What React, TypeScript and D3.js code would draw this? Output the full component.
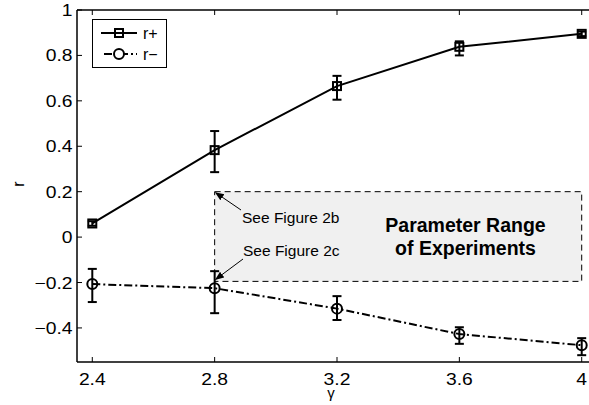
import React from "react";
import * as d3 from "d3";

const gammas = [2.4, 2.8, 3.2, 3.6, 4];
const rPlus = [0.06, 0.383, 0.665, 0.838, 0.895];
const rPlusLo = [0.05, 0.286, 0.605, 0.8, 0.885];
const rPlusHi = [0.07, 0.467, 0.71, 0.862, 0.905];
const rMinus = [-0.207, -0.225, -0.315, -0.427, -0.476];
const rMinusLo = [-0.286, -0.335, -0.365, -0.47, -0.52];
const rMinusHi = [-0.14, -0.15, -0.26, -0.397, -0.445];
const xTicks = [2.4, 2.8, 3.2, 3.6, 4];
const yTicks = [-0.4, -0.2, 0, 0.2, 0.4, 0.6, 0.8, 1];
const rangeBox = { x0: 2.8, x1: 4, y0: -0.195, y1: 0.2 };

const W = 589, H = 405;
const x = d3.scaleLinear().domain([2.35, 4.05]).range([77, 597]);
const y = d3.scaleLinear().domain([-0.55, 1]).range([362, 10]);
const font = "'Liberation Sans', Arial, Helvetica, sans-serif";

function fmt(v: number) {
  const s = d3.format("")(Math.round(v * 10) / 10);
  return s.replace("-", "\u2212");
}

function T(props: { x: number; y: number; sx?: number; size: number; anchor?: string; bold?: boolean; rotate?: number; children: React.ReactNode }) {
  const { x: tx, y: ty, sx = 1, size, anchor = "start", bold, rotate = 0, children } = props;
  return (
    <text
      transform={`translate(${tx},${ty}) rotate(${rotate}) scale(${sx},1)`}
      fontSize={size}
      textAnchor={anchor}
      fontWeight={bold ? "bold" : "normal"}
    >
      {children}
    </text>
  );
}

export default function App() {
  const line = d3.line<number>().x((_, i) => x(gammas[i])).y((d) => y(d));
  const capW = 4.5;
  const errBars = (lo: number[], hi: number[], key: string) =>
    gammas.map((g, i) => (
      <g key={key + i} stroke="#000" strokeWidth={2}>
        <line x1={x(g)} x2={x(g)} y1={y(lo[i])} y2={y(hi[i])} />
        <line x1={x(g) - capW} x2={x(g) + capW} y1={y(lo[i])} y2={y(lo[i])} />
        <line x1={x(g) - capW} x2={x(g) + capW} y1={y(hi[i])} y2={y(hi[i])} />
      </g>
    ));
  const bx0 = x(rangeBox.x0), bx1 = x(rangeBox.x1), by0 = y(rangeBox.y1), by1 = y(rangeBox.y0);
  return (
    <svg width={W} height={H} style={{ position: "absolute", left: 0, top: 0, background: "#fff" }} fontFamily={font}>
      <defs>
        <marker id="ah" viewBox="0 0 10 10" refX="9" refY="5" markerWidth="9" markerHeight="9" orient="auto-start-reverse" markerUnits="userSpaceOnUse">
          <path d="M0,1 L10,5 L0,9 Z" fill="#000" />
        </marker>
      </defs>
      <rect x={0} y={0} width={W} height={H} fill="#fff" />
      {/* parameter range box */}
      <rect x={bx0} y={by0} width={bx1 - bx0} height={by1 - by0} fill="#f0f0f0" stroke="#000" strokeWidth={1} strokeDasharray="6,4" />
      <T x={242} y={222.5} size={15.5}>See Figure 2b</T>
      <T x={243} y={256} size={15.5}>See Figure 2c</T>
      <line x1={241} y1={210} x2={bx0 + 1} y2={by0 + 1} stroke="#000" strokeWidth={1} markerEnd="url(#ah)" />
      <line x1={243} y1={259} x2={bx0 + 1} y2={by1 - 2} stroke="#000" strokeWidth={1} markerEnd="url(#ah)" />
      <T x={465.5} y={231.5} size={19.5} bold anchor="middle">Parameter Range</T>
      <T x={465.5} y={255} size={19.5} bold anchor="middle">of Experiments</T>

      {/* axes */}
      <line x1={77} x2={W} y1={10} y2={10} stroke="#000" strokeWidth={1.5} />
      <line x1={77} x2={W} y1={362} y2={362} stroke="#000" strokeWidth={1.5} />
      <line x1={77} x2={77} y1={10} y2={362} stroke="#000" strokeWidth={1.5} />
      {xTicks.map((t) => (
        <g key={"xt" + t}>
          <line x1={x(t)} x2={x(t)} y1={362} y2={357} stroke="#000" />
          <line x1={x(t)} x2={x(t)} y1={10} y2={15} stroke="#000" />
          <T x={x(t)} y={385} size={16.5} sx={1.17} anchor="middle">{fmt(t)}</T>
        </g>
      ))}
      {yTicks.map((t) => (
        <g key={"yt" + t}>
          <line x1={77} x2={82} y1={y(t)} y2={y(t)} stroke="#000" />
          <T x={72.5} y={y(t) + 6} size={16.5} sx={1.17} anchor="end">{fmt(t)}</T>
        </g>
      ))}
      <T x={331} y={398} size={15} anchor="middle">γ</T>
      <T x={24} y={184} size={16} anchor="middle" rotate={-90}>r</T>

      {/* series */}
      <path d={line(rPlus) || ""} fill="none" stroke="#000" strokeWidth={2} />
      {errBars(rPlusLo, rPlusHi, "p")}
      {gammas.map((g, i) => (
        <rect key={"sq" + i} x={x(g) - 4} y={y(rPlus[i]) - 4} width={8} height={8} fill="none" stroke="#000" strokeWidth={2} />
      ))}
      <path d={line(rMinus) || ""} fill="none" stroke="#000" strokeWidth={2} strokeDasharray="8,3,2,3" />
      {errBars(rMinusLo, rMinusHi, "m")}
      {gammas.map((g, i) => (
        <circle key={"c" + i} cx={x(g)} cy={y(rMinus[i])} r={5} fill="none" stroke="#000" strokeWidth={2} />
      ))}

      {/* legend */}
      <rect x={92.5} y={19.5} width={74} height={48} fill="#fff" stroke="#000" strokeWidth={1} />
      <line x1={101} x2={137} y1={33} y2={33} stroke="#000" strokeWidth={2} />
      <rect x={115} y={29} width={8} height={8} fill="none" stroke="#000" strokeWidth={2} />
      <T x={143} y={38.5} size={16}>r+</T>
      <line x1={101} x2={137} y1={54} y2={54} stroke="#000" strokeWidth={2} strokeDasharray="8,3,2,3" strokeDashoffset={-3} />
      <circle cx={119} cy={54} r={5} fill="#fff" stroke="#000" strokeWidth={2} />
      <T x={143} y={59.5} size={16}>r{"\u2212"}</T>
    </svg>
  );
}
